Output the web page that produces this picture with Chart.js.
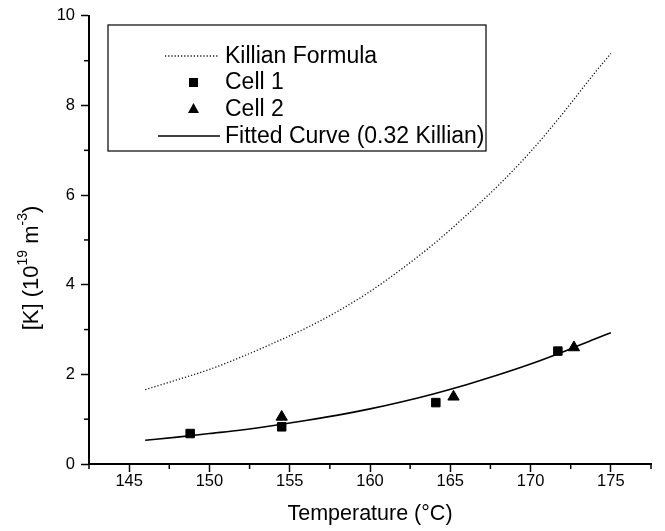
<!DOCTYPE html>
<html>
<head>
<meta charset="utf-8">
<script src="https://cdn.jsdelivr.net/npm/chart.js@4.4.1/dist/chart.umd.min.js"></script>
<style>
html, body { margin: 0; padding: 0; background: #fff; }
</style>
</head>
<body>
<canvas id="grafico" width="665" height="531"></canvas>
<script>
// curvas (temperatura en °C, [K] en 10^19 m^-3)
var tempCurva = [146, 148, 150, 152, 154, 156, 158, 160, 162, 164, 166, 168, 170, 172, 174, 175];
var killian = [1.66, 1.88, 2.11, 2.39, 2.70, 3.03, 3.41, 3.85, 4.36, 4.92, 5.55, 6.22, 6.97, 7.82, 8.73, 9.16];
var ajuste = [0.53, 0.60, 0.68, 0.76, 0.86, 0.97, 1.09, 1.23, 1.39, 1.57, 1.77, 1.99, 2.23, 2.50, 2.79, 2.93];

// medidas
var cell1T = [148.8, 154.5, 164.1, 171.7];
var cell1K = [0.68, 0.83, 1.37, 2.52];
var cell2T = [154.5, 165.2, 172.7];
var cell2K = [1.05, 1.50, 2.60];

var etiquetas = ['Killian Formula', 'Cell 1', 'Cell 2', 'Fitted Curve (0.32 Killian)'];
var tituloX = 'Temperature (\u00B0C)';

var fuente = "'Liberation Sans', Arial, sans-serif";

function puntos(xs, ys) {
    return xs.map(function (x, i) { return { x: x, y: ys[i] }; });
}

var extras = {
    id: 'extras',
    afterDraw: function (chart) {
        var ctx = chart.ctx;
        var sx = chart.scales.x, sy = chart.scales.y;
        ctx.save();
        ctx.strokeStyle = '#000';
        ctx.lineWidth = 1.5;
        // ticks menores
        sx.ticks.forEach(function (t) {
            if (t.value % 5 !== 0) {
                var px = sx.getPixelForValue(t.value);
                ctx.beginPath();
                ctx.moveTo(px, sy.bottom);
                ctx.lineTo(px, sy.bottom + 5);
                ctx.stroke();
            }
        });
        sy.ticks.forEach(function (t) {
            if (t.value % 2 !== 0) {
                var py = sy.getPixelForValue(t.value);
                ctx.beginPath();
                ctx.moveTo(sx.left, py);
                ctx.lineTo(sx.left - 5, py);
                ctx.stroke();
            }
        });

        // leyenda
        ctx.lineWidth = 1.2;
        ctx.strokeRect(108, 25, 378, 126);
        var filas = [56, 82, 109, 136];
        ctx.font = '23px ' + fuente;
        ctx.fillStyle = '#000';
        ctx.textBaseline = 'middle';
        ctx.textAlign = 'left';
        etiquetas.forEach(function (txt, i) {
            ctx.fillText(txt, 225, filas[i] + 1);
        });
        ctx.strokeStyle = '#111';
        ctx.lineWidth = 1.3;
        ctx.setLineDash([1.2, 2]);
        ctx.beginPath();
        ctx.moveTo(165, filas[0]);
        ctx.lineTo(218, filas[0]);
        ctx.stroke();
        ctx.setLineDash([]);
        ctx.fillRect(189, filas[1] - 4, 9, 9);
        ctx.beginPath();
        ctx.moveTo(193.5, filas[2] - 6);
        ctx.lineTo(199, filas[2] + 4);
        ctx.lineTo(188, filas[2] + 4);
        ctx.closePath();
        ctx.fill();
        ctx.strokeStyle = '#000';
        ctx.lineWidth = 1.5;
        ctx.beginPath();
        ctx.moveTo(158, filas[3]);
        ctx.lineTo(220, filas[3]);
        ctx.stroke();

        // titulo eje x
        ctx.font = '21.5px ' + fuente;
        ctx.textAlign = 'center';
        ctx.fillText(tituloX, (sx.left + sx.right) / 2, 514);

        // titulo eje y con superindices
        var partes = [['[K] (10', 22, 0], ['19', 14, -9], [' m', 22, 0], ['-3', 14, -9], [')', 22, 0]];
        var ancho = 0;
        partes.forEach(function (p) {
            ctx.font = p[1] + 'px ' + fuente;
            ancho += ctx.measureText(p[0]).width;
        });
        ctx.translate(32, 268);
        ctx.rotate(-Math.PI / 2);
        ctx.textAlign = 'left';
        var px = -ancho / 2;
        partes.forEach(function (p) {
            ctx.font = p[1] + 'px ' + fuente;
            ctx.fillText(p[0], px, p[2]);
            px += ctx.measureText(p[0]).width;
        });
        ctx.restore();
    }
};

var ctx = document.getElementById('grafico').getContext('2d');
var chart = new Chart(ctx, {
    type: 'scatter',
    data: {
        datasets: [{
            label: etiquetas[0],
            data: puntos(tempCurva, killian),
            showLine: true,
            borderColor: '#111',
            borderWidth: 1.3,
            borderDash: [1.2, 2],
            pointRadius: 0,
            cubicInterpolationMode: 'monotone'
        }, {
            label: etiquetas[1],
            data: puntos(cell1T, cell1K),
            pointStyle: 'rect',
            pointRadius: 6,
            backgroundColor: '#000',
            borderColor: '#000',
            borderWidth: 1
        }, {
            label: etiquetas[2],
            data: puntos(cell2T, cell2K),
            pointStyle: 'triangle',
            pointRadius: 6.5,
            backgroundColor: '#000',
            borderColor: '#000',
            borderWidth: 1
        }, {
            label: etiquetas[3],
            data: puntos(tempCurva, ajuste),
            showLine: true,
            borderColor: '#000',
            borderWidth: 1.6,
            pointRadius: 0,
            cubicInterpolationMode: 'monotone'
        }]
    },
    options: {
        responsive: false,
        animation: false,
        devicePixelRatio: 1,
        layout: { padding: { top: 15, right: 14, left: 0, bottom: 0 } },
        scales: {
            x: {
                type: 'linear',
                min: 142.5,
                max: 177.5,
                afterFit: function (s) { s.height = 67; },
                border: { color: '#000', width: 2 },
                grid: {
                    drawOnChartArea: false,
                    tickLength: 8,
                    tickWidth: 1.5,
                    tickColor: function (c) { return c.tick && c.tick.value % 5 === 0 ? '#000' : 'rgba(0,0,0,0)'; }
                },
                ticks: {
                    stepSize: 2.5,
                    autoSkip: false,
                    maxRotation: 0,
                    padding: 0,
                    color: '#000',
                    font: { family: fuente, size: 16.5 },
                    callback: function (v) { return v % 5 === 0 ? String(v) : ''; }
                }
            },
            y: {
                min: 0,
                max: 10,
                afterFit: function (s) { s.width = 89; },
                border: { color: '#000', width: 2 },
                grid: {
                    drawOnChartArea: false,
                    tickLength: 8,
                    tickWidth: 1.5,
                    tickColor: function (c) { return c.tick && c.tick.value % 2 === 0 ? '#000' : 'rgba(0,0,0,0)'; }
                },
                ticks: {
                    stepSize: 1,
                    autoSkip: false,
                    padding: 6,
                    color: '#000',
                    font: { family: fuente, size: 16.5 },
                    callback: function (v) { return v % 2 === 0 ? String(v) : ''; }
                }
            }
        },
        plugins: {
            legend: { display: false },
            tooltip: { enabled: false }
        }
    },
    plugins: [extras]
});
</script>
</body>
</html>
